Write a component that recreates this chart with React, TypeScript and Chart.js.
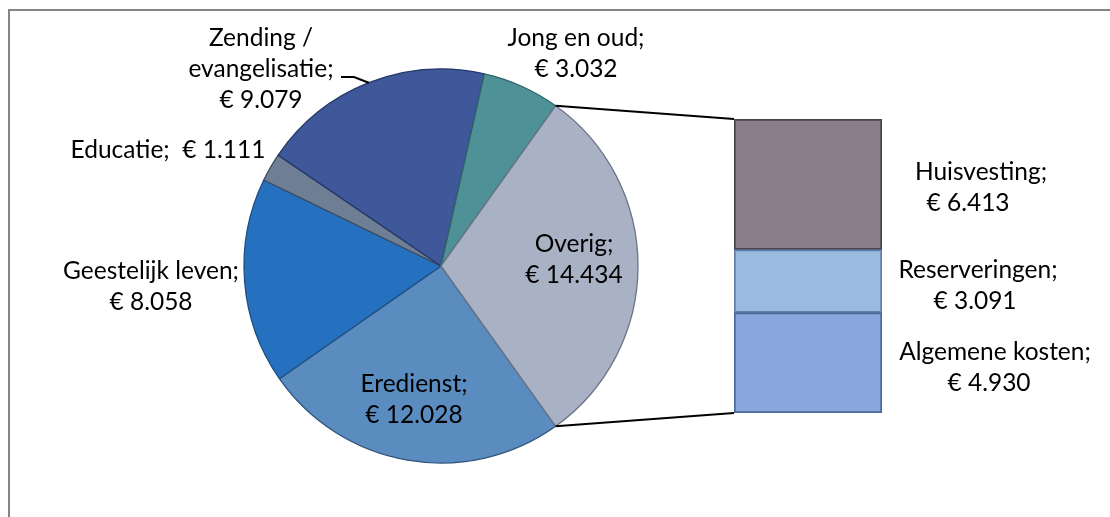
import React, { useEffect, useRef } from "react";
import { Chart, registerables } from "chart.js";

Chart.register(...registerables);

// ---- data ----
const pieLabels = ["Eredienst", "Geestelijk leven", "Educatie", "Zending /\nevangelisatie", "Jong en oud", "Overig"];
const pieValues = [12028, 8058, 1111, 9079, 3032, 14434];
const pieColors = ["#5A8CBF", "#2570BF", "#6D7E95", "#3F5899", "#4E9297", "#A9B2C5"];
const pieBorders = ["#2F5379", "#1F4F80", "#3C4A5E", "#26386A", "#2E6468", "#6C7486"];

const barLabels = ["Algemene kosten", "Reserveringen", "Huisvesting"];
const barValues = [4930, 3091, 6413];
const barColors = ["#86A6DD", "#9ABAE0", "#8A7E8B"];
const barBorders = ["#4A6A9C", "#5E7FA8", "#4A434F"];

// ---- label layout (text positions, page coords: centre x, first line centre y) ----
const pieLabelPos = [
  { x: 414, y: 384, inline: false },
  { x: 151, y: 271, inline: false },
  { x: 168, y: 150, inline: true },
  { x: 261, y: 38, inline: false },
  { x: 576, y: 38, inline: false },
  { x: 574, y: 244, inline: false },
];
const barLabelPos = [
  { x: 995, y: 352, dx2: -6 },
  { x: 978, y: 270, dx2: -3 },
  { x: 981, y: 172, dx2: -13 },
];
const LINE_H = 31;
const FONT = "24.5px Lato, 'Open Sans', sans-serif";

const fmt = (v: number) => {
  const s = String(Math.round(v));
  return "€ " + s.replace(/\B(?=(\d{3})+(?!\d))/g, ".");
};

export default function App() {
  const pieRef = useRef<HTMLCanvasElement | null>(null);
  const barRef = useRef<HTMLCanvasElement | null>(null);

  useEffect(() => {
    const total = pieValues.reduce((a, b) => a + b, 0);
    const otherIdx = pieValues.length - 1;
    const rotation = 90 + (180 * pieValues[otherIdx]) / total;

    const pieLabelPlugin = {
      id: "pieLabels",
      afterDraw(chart: any) {
        const ctx = chart.ctx;
        ctx.save();
        ctx.font = FONT;
        ctx.fillStyle = "#000";
        ctx.textAlign = "center";
        ctx.textBaseline = "middle";
        pieLabels.forEach((lab, i) => {
          const p = pieLabelPos[i];
          const nameLines = (lab + ";").split("\n");
          const lines = p.inline ? [nameLines.join(" ") + "  " + fmt(pieValues[i])] : [...nameLines, fmt(pieValues[i])];
          lines.forEach((ln, k) => ctx.fillText(ln, p.x, p.y + k * LINE_H));
        });
        // leader line for Zending label
        const arc = chart.getDatasetMeta(0).data[3];
        const { x, y, outerRadius, startAngle, endAngle } = arc.getProps(["x", "y", "outerRadius", "startAngle", "endAngle"], true);
        const a = startAngle + (endAngle - startAngle) * 0.5;
        const ex = x + outerRadius * Math.cos(a);
        const ey = y + outerRadius * Math.sin(a);
        ctx.strokeStyle = "#000";
        ctx.lineWidth = 2;
        ctx.beginPath();
        ctx.moveTo(341, 77);
        ctx.lineTo(354, 77);
        ctx.lineTo(ex, ey);
        ctx.stroke();
        ctx.restore();
      },
    };

    const pie = new Chart(pieRef.current!, {
      type: "pie",
      data: {
        labels: pieLabels,
        datasets: [
          {
            data: pieValues,
            backgroundColor: pieColors,
            borderColor: pieBorders,
            borderWidth: 1.3,
            radius: 197,
          } as any,
        ],
      },
      options: {
        responsive: false,
        animation: false,
        rotation,
        layout: { padding: { left: 0, right: 228, top: 15, bottom: 0 } },
        plugins: { legend: { display: false }, tooltip: { enabled: false } },
      },
      plugins: [pieLabelPlugin],
    });

    const barTotal = barValues.reduce((a, b) => a + b, 0);

    const barPlugin = {
      id: "barExtras",
      afterDraw(chart: any) {
        const ctx = chart.ctx;
        ctx.save();
        // connector lines from the "Overig" slice to the bar
        const arc = pie.getDatasetMeta(0).data[otherIdx] as any;
        const { x, y, outerRadius, startAngle, endAngle } = arc.getProps(["x", "y", "outerRadius", "startAngle", "endAngle"], true);
        const topEl = chart.getDatasetMeta(barValues.length - 1).data[0];
        const botEl = chart.getDatasetMeta(0).data[0];
        const left = topEl.x - topEl.width / 2;
        ctx.strokeStyle = "#000";
        ctx.lineWidth = 2;
        ctx.beginPath();
        ctx.moveTo(x + outerRadius * Math.cos(startAngle), y + outerRadius * Math.sin(startAngle));
        ctx.lineTo(left, topEl.y);
        ctx.moveTo(x + outerRadius * Math.cos(endAngle), y + outerRadius * Math.sin(endAngle));
        ctx.lineTo(left, botEl.base);
        ctx.stroke();
        // labels
        ctx.font = FONT;
        ctx.fillStyle = "#000";
        ctx.textAlign = "center";
        ctx.textBaseline = "middle";
        barLabels.forEach((lab, i) => {
          const p = barLabelPos[i];
          ctx.fillText(lab + ";", p.x, p.y);
          ctx.fillText(fmt(barValues[i]), p.x + p.dx2, p.y + LINE_H);
        });
        ctx.restore();
      },
    };

    const bar = new Chart(barRef.current!, {
      type: "bar",
      data: {
        labels: ["Overig"],
        datasets: barLabels.map((lab, i) => ({
          label: lab,
          data: [barValues[i]],
          backgroundColor: barColors[i],
          borderColor: barBorders[i],
          borderWidth: 2,
          borderSkipped: false,
          barPercentage: 1,
          categoryPercentage: 1,
        })),
      },
      options: {
        responsive: false,
        animation: false,
        layout: { padding: { left: 734, right: 228, top: 119, bottom: 104 } },
        scales: {
          x: { display: false, stacked: true },
          y: { display: false, stacked: true, min: 0, max: barTotal },
        },
        plugins: { legend: { display: false }, tooltip: { enabled: false } },
      },
      plugins: [barPlugin],
    });

    return () => {
      bar.destroy();
      pie.destroy();
    };
  }, []);

  const abs: React.CSSProperties = { position: "absolute", left: 0, top: 0 };
  return (
    <div style={{ position: "fixed", left: 0, top: 0, width: 1110, height: 517, overflow: "hidden", background: "#fff" }}>
      <div
        style={{
          position: "absolute",
          left: 8,
          top: 9,
          width: 1300,
          height: 700,
          borderLeft: "2px solid #858585",
          borderTop: "2px solid #858585",
        }}
      />
      <canvas ref={pieRef} width={1110} height={517} style={abs} />
      <canvas ref={barRef} width={1110} height={517} style={abs} />
    </div>
  );
}
